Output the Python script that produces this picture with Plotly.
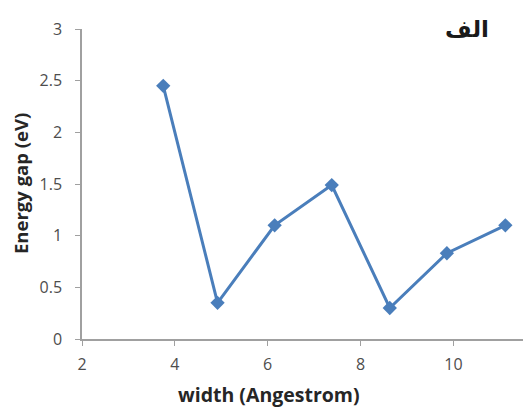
import plotly.graph_objects as go

width_angstrom = [3.75, 4.92, 6.15, 7.38, 8.63, 9.86, 11.12]
energy_gap_ev = [2.45, 0.35, 1.10, 1.49, 0.30, 0.83, 1.10]
x_ticks = [2, 4, 6, 8, 10]
y_ticks = [0, 0.5, 1, 1.5, 2, 2.5, 3]
y_tick_labels = ["0", "0.5", "1", "1.5", "2", "2.5", "3"]

fig = go.Figure()
fig.add_trace(go.Scatter(
    x=width_angstrom, y=energy_gap_ev, mode="lines+markers",
    line=dict(color="#4A7EBB", width=3),
    marker=dict(symbol="diamond", size=11, color="#4A7EBB"),
    showlegend=False,
))

tick_font = dict(family="Open Sans", size=16, color="#4D4D4D")
fig.update_layout(
    width=523, height=408,
    margin=dict(l=82, r=0, t=29, b=69),
    paper_bgcolor="white", plot_bgcolor="white",
    xaxis=dict(range=[2, 11.5], tickvals=x_ticks, showgrid=False, zeroline=False,
               showline=True, linecolor="#A0A0A0", linewidth=1.5,
               ticks="outside", ticklen=5, tickcolor="#A0A0A0",
               tickfont=tick_font, ticklabelstandoff=5),
    yaxis=dict(range=[0, 3], tickvals=y_ticks, ticktext=y_tick_labels,
               showgrid=False, zeroline=False,
               showline=True, linecolor="#A0A0A0", linewidth=1.5,
               ticks="outside", ticklen=5, tickcolor="#A0A0A0",
               tickfont=tick_font, ticklabelstandoff=10),
    annotations=[
        dict(text="<b>Energy gap (eV)</b>", xref="paper", yref="paper",
             x=-62 / 441, y=0.5, xanchor="center", yanchor="middle", textangle=-90,
             showarrow=False, font=dict(family="Open Sans", size=18.5, color="#262626")),
        dict(text="<b>width (Angestrom)</b>", xref="paper", yref="paper",
             x=(269 - 82) / 441, y=-55 / 310, xanchor="center", yanchor="middle",
             showarrow=False, font=dict(family="Open Sans", size=19.5, color="#262626")),
        dict(text="<b>الف</b>", xref="paper", yref="paper",
             x=(467 - 82) / 441, y=1.0, xanchor="center", yanchor="middle",
             showarrow=False, font=dict(family="DejaVu Sans", size=23, color="#1A1A1A")),
    ],
)

fig.write_html("out.html")
